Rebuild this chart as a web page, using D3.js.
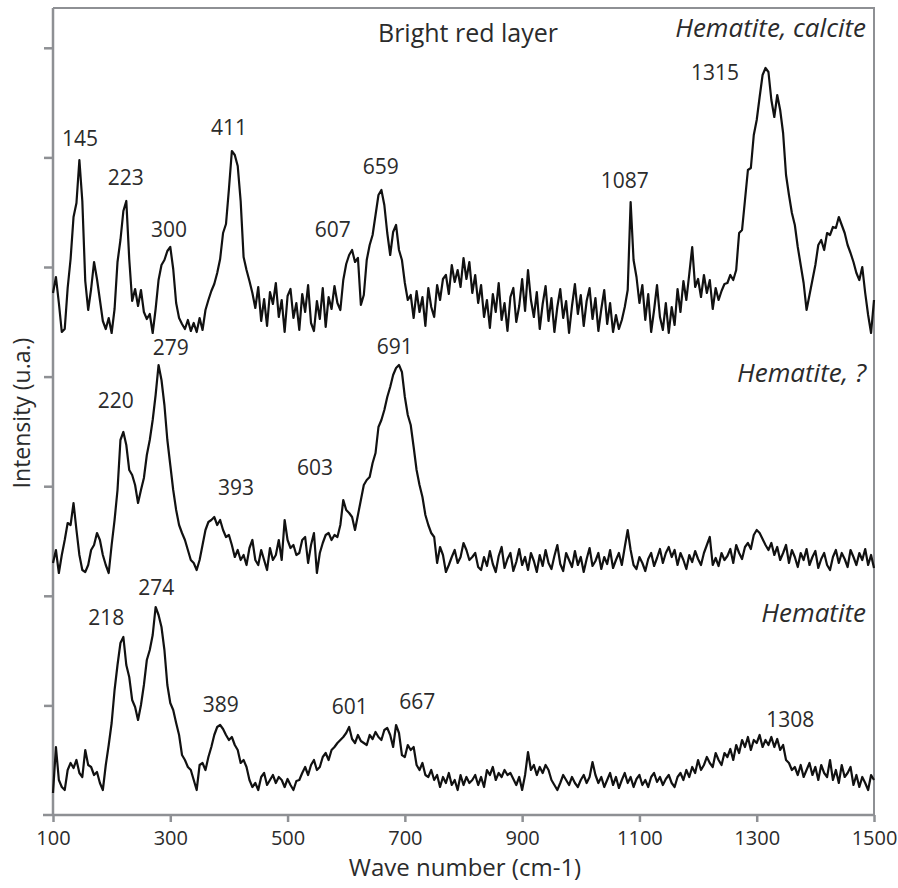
<!DOCTYPE html>
<html>
<head>
<meta charset="utf-8">
<script src="https://cdn.jsdelivr.net/npm/d3@7"></script>
<style>
    body { margin: 0; background: #fff; }
    text { font-family: "Open Sans", "DejaVu Sans", sans-serif; fill: #2b2b2b; }
</style>
</head>
<body>
<script>
"use strict";

// raman shift axis, one value every 5 cm-1 from 100 to 1500
const waveStart = 100
const waveStep = 5
const xTicks = [100, 300, 500, 700, 900, 1100, 1300, 1500]

// intensities (a.u., spectra already stacked)
const calciteLayer = [
    522,538,512,483,486,527,556,598,612,655,614,534,505,526,553,536,515,494,486,497,
    482,506,553,575,604,614,556,514,526,509,525,503,496,501,482,506,535,550,555,564,
    568,546,512,497,491,486,495,484,492,483,497,485,505,515,524,531,542,556,582,591,
    626,664,660,649,614,558,545,534,522,507,528,494,516,489,523,511,532,498,515,483,
    519,526,497,512,485,521,503,530,492,484,514,496,527,488,518,506,529,512,505,535,
    551,560,565,553,557,510,520,555,570,580,600,620,625,610,582,560,583,590,565,555,
    532,515,520,497,524,503,518,489,527,508,498,530,515,536,540,521,550,533,545,528,
    557,536,553,522,540,512,530,498,515,487,521,503,532,495,512,484,518,527,493,509,
    536,504,545,515,498,523,486,511,529,494,517,483,508,526,497,514,482,509,531,501,
    520,489,514,527,496,517,484,506,525,491,512,483,500,486,495,508,525,613,555,538,
    512,530,495,521,483,505,530,498,485,512,482,508,490,526,503,534,515,541,568,528,
    536,518,540,522,535,506,527,515,524,531,532,540,535,545,582,585,615,645,647,680,
    695,718,740,747,743,715,698,720,705,682,640,620,602,590,568,550,532,505,520,535,
    550,570,575,565,582,580,588,587,598,590,582,570,562,553,542,535,548,522,500,482,
    515
]
const unknownLayer = [
    252,265,242,260,275,292,290,312,285,260,245,243,250,265,270,282,275,260,250,242,
    270,295,325,375,383,370,345,340,330,312,325,337,360,375,395,420,450,435,410,375,
    350,325,305,290,282,275,265,255,252,245,255,270,285,293,295,298,290,295,285,278,
    280,270,258,265,255,260,250,267,275,255,250,265,255,245,267,255,260,275,255,295,
    275,267,270,260,262,275,278,252,270,282,242,262,272,280,282,275,280,278,290,315,
    305,302,298,285,300,315,330,335,338,352,362,388,395,405,418,428,440,447,450,443,
    418,400,390,368,345,330,318,300,290,282,278,252,268,260,243,250,258,265,252,258,
    272,265,255,258,262,248,245,258,249,264,251,243,259,268,247,256,262,244,253,266,
    250,258,245,262,254,243,260,249,265,252,246,259,270,251,244,262,255,248,264,250,
    258,243,256,267,249,254,262,246,258,251,265,247,255,262,250,268,285,265,250,246,
    258,252,244,256,262,249,257,266,252,262,268,258,265,250,262,255,246,260,253,264,
    256,250,262,270,278,250,257,249,262,255,259,266,252,270,262,256,268,272,266,280,
    285,282,276,270,265,272,260,268,255,262,270,252,265,258,248,262,255,266,250,258,
    264,247,256,262,250,245,258,265,252,262,256,248,265,258,250,262,255,266,250,260,
    247
]
const hematiteLayer = [
    22,68,35,28,25,45,52,47,55,42,38,65,50,48,40,43,32,25,50,70,
    92,125,150,172,178,150,138,115,108,95,110,130,155,165,180,208,200,188,165,130,
    112,105,92,80,60,55,48,45,35,25,50,52,45,58,68,80,88,90,86,80,
    75,78,70,65,52,55,48,35,28,32,25,38,42,30,35,40,32,38,35,28,
    36,30,25,34,35,42,48,40,50,55,45,48,58,62,55,65,68,72,75,78,
    82,88,76,72,80,74,72,70,80,76,83,78,75,85,87,80,68,90,82,60,
    58,70,65,68,50,45,52,40,38,45,35,40,28,38,32,42,30,35,25,40,
    30,38,32,35,40,30,38,28,45,40,48,35,42,38,45,40,42,36,30,38,
    25,40,63,45,50,40,48,42,50,45,35,30,25,32,40,35,30,38,32,28,
    35,40,32,38,53,40,32,38,28,35,42,30,38,27,35,42,32,38,28,36,
    40,30,35,28,38,42,33,38,30,36,40,32,28,38,42,35,45,38,48,42,
    55,45,50,58,52,48,62,55,50,62,58,66,55,70,62,75,68,78,65,75,
    72,80,68,75,70,78,68,76,65,70,55,52,45,48,40,50,38,45,52,40,
    48,35,50,42,38,55,35,45,32,50,38,42,48,30,40,28,38,32,25,40,
    35
]

// peak labels: text and where it sits (wave number, intensity)
const peakLabels = [
    {text: "145", w: 146, v: 669}, {text: "223", w: 224, v: 630},
    {text: "300", w: 298, v: 578}, {text: "411", w: 400, v: 680},
    {text: "607", w: 577, v: 578}, {text: "659", w: 659, v: 641},
    {text: "1087", w: 1075, v: 627}, {text: "1315", w: 1229, v: 735},
    {text: "220", w: 207, v: 407}, {text: "279", w: 301, v: 460},
    {text: "393", w: 412, v: 320}, {text: "603", w: 547, v: 340},
    {text: "691", w: 683, v: 461},
    {text: "218", w: 191, v: 190}, {text: "274", w: 276, v: 220},
    {text: "389", w: 386, v: 103}, {text: "601", w: 606, v: 101},
    {text: "667", w: 721, v: 106}, {text: "1308", w: 1357, v: 88}
]
const layerNames = [
    {text: "Hematite, calcite", v: 778},
    {text: "Hematite, ?", v: 433},
    {text: "Hematite", v: 193}
]

const measurements = {
    width: 898,
    height: 888,
    left: 53,
    right: 874,
    top: 8,
    bottom: 815
}
const axisGrey = "#8e9094"

const svgContainer = d3.select("body").append("svg")
    .attr("width", measurements.width)
    .attr("height", measurements.height)

// scales
const scaleX = d3.scaleLinear()
    .domain([100, 1500])
    .range([measurements.left, measurements.right])
const scaleY = d3.scaleLinear()
    .domain([0, 807])
    .range([measurements.bottom, measurements.top])

// frame (top and right border)
svgContainer.append("path")
    .attr("d", "M" + measurements.left + "," + measurements.top +
        "H" + measurements.right + "V" + measurements.bottom)
    .attr("fill", "none")
    .attr("stroke", axisGrey)
    .attr("stroke-width", 2)

// x axis
const xAxis = svgContainer.append("g")
    .attr("transform", "translate(0," + measurements.bottom + ")")
    .call(d3.axisBottom(scaleX).tickValues(xTicks).tickFormat(d3.format("d"))
        .tickSize(7).tickPadding(9))
xAxis.select(".domain")
    .attr("d", "M43,0H" + measurements.right)
    .attr("stroke", axisGrey)
    .attr("stroke-width", 2.5)
xAxis.selectAll(".tick line").attr("stroke", axisGrey).attr("stroke-width", 2.5)
xAxis.selectAll(".tick text")
    .attr("fill", "#2b2b2b")
    .style("font-family", "'Open Sans', sans-serif")
    .style("font-size", "20px")

// y axis, unlabelled ticks
const yAxis = svgContainer.append("g")
    .attr("transform", "translate(" + measurements.left + ",0)")
    .call(d3.axisLeft(scaleY).tickValues(d3.range(109.6, 800, 109.6)).tickSize(9).tickFormat(""))
yAxis.select(".domain")
    .attr("d", "M0," + measurements.bottom + "V" + measurements.top)
    .attr("stroke", axisGrey)
    .attr("stroke-width", 2.5)
yAxis.selectAll(".tick line").attr("stroke", axisGrey).attr("stroke-width", 2.5)

// spectra
const line = d3.line()
    .x((d, i) => scaleX(waveStart + i * waveStep))
    .y(d => scaleY(d))
const spectra = [calciteLayer, unknownLayer, hematiteLayer]
svgContainer.selectAll(".spectrum")
    .data(spectra)
    .enter()
    .append("path")
        .attr("class", "spectrum")
        .attr("d", line)
        .attr("fill", "none")
        .attr("stroke", "#111")
        .attr("stroke-width", 2.2)
        .attr("stroke-linejoin", "round")

// peak numbers
svgContainer.selectAll(".peak")
    .data(peakLabels)
    .enter()
    .append("text")
        .attr("class", "peak")
        .attr("x", d => scaleX(d.w))
        .attr("y", d => scaleY(d.v))
        .attr("text-anchor", "middle")
        .style("font-size", "21px")
        .text(d => d.text)

// layer names on the right
svgContainer.selectAll(".layer")
    .data(layerNames)
    .enter()
    .append("text")
        .attr("class", "layer")
        .attr("x", 866)
        .attr("y", d => scaleY(d.v))
        .attr("text-anchor", "end")
        .style("font-size", "26px")
        .style("font-style", "italic")
        .text(d => d.text)

// title and axis labels
svgContainer.append("text")
    .attr("x", 468)
    .attr("y", 42)
    .attr("text-anchor", "middle")
    .style("font-size", "25px")
    .text("Bright red layer")
svgContainer.append("text")
    .attr("x", 465)
    .attr("y", 876)
    .attr("text-anchor", "middle")
    .style("font-size", "24px")
    .text("Wave number (cm-1)")
svgContainer.append("text")
    .attr("transform", "translate(30,413)rotate(-90)")
    .attr("text-anchor", "middle")
    .style("font-size", "23px")
    .text("Intensity (u.a.)")
</script>
</body>
</html>
